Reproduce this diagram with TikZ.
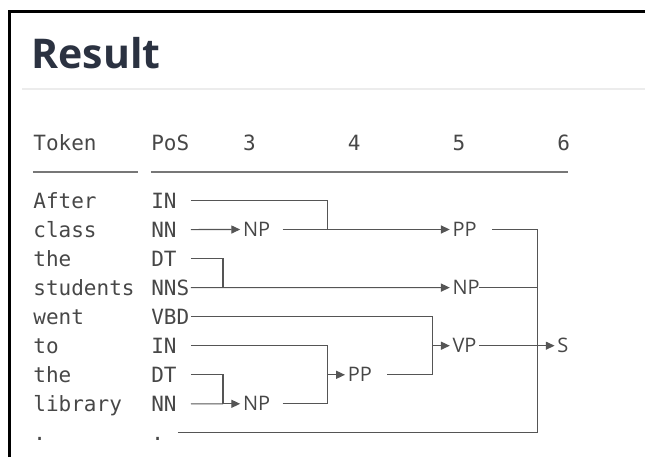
\documentclass[tikz,border=0pt]{standalone}
\usepackage{fontspec}
\usetikzlibrary{arrows.meta}
\newfontfamily\monofont{DejaVu Sans Mono}
\newfontfamily\labfont{Open Sans}
\newfontfamily\headfont{Open Sans}
\definecolor{txt}{HTML}{474747}
\definecolor{lin}{HTML}{555555}
\definecolor{head}{HTML}{2b3241}
\definecolor{faint}{HTML}{ececec}

\begin{document}
\begin{tikzpicture}[x=0.5pt, y=-0.5pt,
  tok/.style={font=\monofont\fontsize{10.5}{12}\selectfont, text=txt, anchor=west,
              inner sep=0pt, text height=7.6pt, text depth=0pt},
  tag/.style={tok, text width=#1, align=left},
  tag/.default=19.65pt,
  phr/.style={font=\labfont\fontsize{10}{12}\selectfont, text=txt, anchor=west,
              inner sep=0pt, text height=7.1pt, text depth=0pt, text width=#1, align=left},
  phr/.default=19.65pt,
  ln/.style={draw=lin, line width=0.55pt},
  arr/.style={ln, -{Triangle[length=4.4pt, width=4pt]}, shorten >=1.2pt},
  rule/.style={draw=lin!80, line width=0.7pt}
]
  \useasboundingbox (0,0) rectangle (645,457);
  \draw[line width=1.5pt] (9.5,457) -- (9.5,11.5) -- (645,11.5);

  % heading
  \node[font=\headfont\bfseries\fontsize{20.5}{24}\selectfont, text=head, anchor=west,
        inner sep=0pt, text height=14.6pt, text depth=0pt] (res) at (31,53.5) {Result};
  \draw[faint, line width=1pt] (22,89) -- (645,89);

  % column heads
  \node[tok] (hTok) at (33,142.4) {Token};
  \node[tok] (hPos) at (150.9,142.4) {PoS};
  \foreach \n/\x in {3/242.6, 4/347.4, 5/452.2, 6/557}
    \node[tok] (h\n) at (\x,142.4) {\n};
  \draw[rule] (33,172) -- (138,172);
  \draw[rule] (151,172) -- (568,172);

  % tokens and tags
  \foreach \w [count=\i] in {After,class,the,students,went,to,the,library,.}
    \node[tok] (w\i) at (33,{200.5+(\i-1)*29.05}) {\w};
  \foreach \t [count=\i] in {IN,NN,DT,NNS,VBD,IN,DT,NN}
    \node[tag] (t\i) at (150.9,{200.5+(\i-1)*29.05}) {\t};
  \node[tag=13.1pt] (t9) at (150.9,432.9) {.};

  % phrases
  \node[phr] (np1) at (242.6,229.5) {NP};
  \node[phr] (pp1) at (452.2,229.5) {PP};
  \node[phr=13.1pt] (np2) at (452.2,287.6) {NP};
  \node[phr=13.1pt] (vp) at (452.2,345.7) {VP};
  \node[phr] (pp2) at (347.4,374.8) {PP};
  \node[phr] (np3) at (242.6,403.8) {NP};
  \node[phr] (s) at (557,345.7) {S};

  % junctions
  \coordinate (j3a) at (327.75,229.5);
  \coordinate (j2a) at (223,287.6);
  \coordinate (j2b) at (223,403.8);
  \coordinate (j3b) at (327.75,403.8);
  \coordinate (j4) at (432.5,374.8);
  \coordinate (j5) at (537.35,432.9);

  \draw[arr] (t2.east) -- (np1.west);
  \draw[ln] (t1.east) -| (j3a);
  \draw[arr] (np1.east) -- (pp1.west);
  \draw[ln] (t3.east) -| (j2a);
  \draw[arr] (t4.east) -- (np2.west);

  \draw[ln] (t8.east) -- (j2b);
  \draw[arr] (t7.east) -| (j2b) -- (np3.west);
  \draw[ln] (t6.east) -| (j3b);
  \draw[ln] (np3.east) -- (j3b);
  \draw[arr] (pp2.west -| j3b) -- (pp2.west);
  \draw[ln] (t5.east) -| (j4);
  \draw[ln] (pp2.east) -- (j4);
  \draw[arr] (vp.west -| j4) -- (vp.west);

  \draw[ln] (pp1.east) -| (j5);
  \draw[ln] (t9.east) -- (j5);
  \draw[ln] (np2.east) -- (np2.east -| j5);
  \draw[arr] (vp.east) -- (s.west);
\end{tikzpicture}
\end{document}
